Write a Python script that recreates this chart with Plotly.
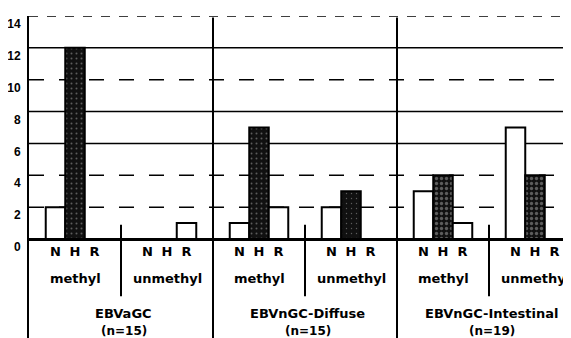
import plotly.graph_objects as go

# ---- data ----
subgroups = ["EBVaGC methyl", "EBVaGC unmethyl",
             "Diffuse methyl", "Diffuse unmethyl",
             "Intestinal methyl", "Intestinal unmethyl"]
sub_labels = ["methyl", "unmethyl", "methyl", "unmethyl", "methyl", "unmethyl"]
group_names = ["EBVaGC", "EBVnGC-Diffuse", "EBVnGC-Intestinal"]
group_n = ["(n=15)", "(n=15)", "(n=19)"]
bar_letters = ["N", "H", "R"]
N_vals = [2, 0, 1, 2, 3, 7]
H_vals = [12, 0, 7, 3, 4, 4]
R_vals = [0, 1, 2, 0, 1, 0]
y_ticks = [0, 2, 4, 6, 8, 10, 12, 14]

# ---- layout geometry (page body adds an 8px offset) ----
OFF = 8
W, H = 571 - OFF, 338 - OFF
ml, mt = 29 - OFF, 16 - OFF
y_hi = 14
px_per_unit = (239 - 16) / 14.0
y_lo = -(338 - 239) / px_per_unit
x_hi = (571 - 29) / 92.0
bar_w = 0.212

xs = [i + 0.5 for i in range(len(subgroups))]

lab_font = "DejaVu Sans, Verdana, sans-serif"
num_font = "Liberation Sans, Arial, sans-serif"

fig = go.Figure()
fig.add_trace(go.Bar(x=xs, y=N_vals, name="N",
                     marker=dict(color="white", line=dict(color="black", width=2))))
fig.add_trace(go.Bar(x=xs, y=H_vals, name="H",
                     marker=dict(color="#111111", line=dict(color="black", width=2),
                                 pattern=dict(shape=".", fgcolor="#aaaaaa", bgcolor="#111111",
                                              size=5,
                                              solidity=[0.12, 0.12, 0.12, 0.06, 0.35, 0.35]))))
fig.add_trace(go.Bar(x=xs, y=R_vals, name="R",
                     marker=dict(color="white", line=dict(color="black", width=2))))

# tick positions for N H R letters under each bar
tickvals, ticktext = [], []
for x in xs:
    for k, letter in enumerate(bar_letters):
        tickvals.append(x + (k - 1) * bar_w)
        ticktext.append(letter)

shapes = []
# gridlines
grid_dash = {2: "longdash", 4: "longdash", 6: "solid", 8: "solid",
             10: "longdash", 12: "solid", 14: "dash"}
for v in y_ticks[1:]:
    shapes.append(dict(type="line", xref="paper", yref="y", x0=0, x1=1, y0=v, y1=v,
                       line=dict(color="black", width=1.5, dash=grid_dash[v]), layer="below"))
# group separators (full height)
for g in range(1, len(group_names)):
    shapes.append(dict(type="line", xref="x", yref="paper", x0=2 * g, x1=2 * g, y0=0, y1=0.995,
                       line=dict(color="black", width=2)))
# methyl/unmethyl separators
for g in range(len(group_names)):
    xsep = 2 * g + 1
    shapes.append(dict(type="line", xref="x", yref="y", x0=xsep, x1=xsep, y0=0.9, y1=-3.6,
                       line=dict(color="black", width=2)))

annotations = []
for x, lab in zip(xs, sub_labels):
    annotations.append(dict(x=x, y=-2.5, xref="x", yref="y", text=lab, showarrow=False,
                            font=dict(family=lab_font, size=13, color="black", weight="bold"),
                            xanchor="center", yanchor="middle"))
for g, (name, n) in enumerate(zip(group_names, group_n)):
    annotations.append(dict(x=2 * g + 1.03, y=-4.7, xref="x", yref="y", text=name, showarrow=False,
                            font=dict(family=lab_font, size=13, color="black", weight="bold"),
                            xanchor="center", yanchor="middle"))
    annotations.append(dict(x=2 * g + 1.03, y=-5.75, xref="x", yref="y", text=n, showarrow=False,
                            font=dict(family=lab_font, size=12, color="black", weight="bold"),
                            xanchor="center", yanchor="middle"))

fig.update_layout(
    width=W, height=H,
    margin=dict(l=ml, r=0, t=mt, b=0, pad=0),
    paper_bgcolor="white", plot_bgcolor="white",
    barmode="group", bargap=1 - 3 * bar_w, bargroupgap=0,
    showlegend=False,
    shapes=shapes, annotations=annotations,
    xaxis=dict(range=[0, x_hi], anchor="free", position=(0 - y_lo) / (y_hi - y_lo),
               automargin=False,
               showline=True, linecolor="black", linewidth=3,
               showgrid=False, zeroline=False, ticks="",
               tickmode="array", tickvals=tickvals, ticktext=ticktext,
               tickfont=dict(family=lab_font, size=13, color="black", weight="bold"),
               tickangle=0, ticklabelstandoff=-1),
    yaxis=dict(range=[y_lo, y_hi], automargin=False,
               showline=True, linecolor="black", linewidth=2,
               showgrid=False, zeroline=False, ticks="",
               tickmode="array", tickvals=y_ticks, ticktext=[str(v) for v in y_ticks],
               tickfont=dict(family=num_font, size=12, color="black", weight="bold"),
               ticklabelshift=8, ticklabelstandoff=4),
    font=dict(family=lab_font, color="black"),
)

fig.write_html("out.html")
